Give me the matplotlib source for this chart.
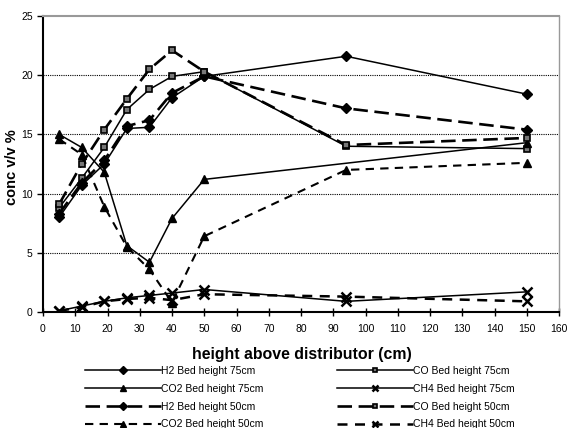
import matplotlib
matplotlib.use("Agg")
import matplotlib.pyplot as plt
import numpy as np

plt.rcParams['font.family'] = ['Liberation Sans', 'DejaVu Sans']

x_all = [5, 12, 19, 26, 33, 40, 50, 94, 150]
x_co2_75 = [5, 12, 19, 26, 33, 40, 50, 150]

h2_75 = [8.0, 10.7, 12.5, 15.5, 15.6, 18.1, 19.9, 21.6, 18.4]
co_75 = [8.8, 11.3, 13.9, 17.1, 18.8, 19.9, 20.3, 14.0, 13.8]
co2_75 = [15.0, 13.9, 11.8, 5.6, 4.2, 7.9, 11.2, 14.3]
ch4_75 = [0.1, 0.5, 0.9, 1.2, 1.4, 1.6, 1.9, 0.9, 1.7]

h2_50 = [8.3, 10.9, 12.8, 15.7, 16.2, 18.5, 19.9, 17.2, 15.4]
co_50 = [9.1, 12.5, 15.4, 18.0, 20.5, 22.1, 20.3, 14.1, 14.7]
co2_50 = [14.6, 13.3, 8.9, 5.5, 3.6, 0.8, 6.4, 12.0, 12.6]
ch4_50 = [0.1, 0.4, 0.9, 1.1, 1.2, 1.0, 1.5, 1.3, 0.9]

labels = ["H2 Bed height 75cm", "CO Bed height 75cm", "CO2 Bed height 75cm", "CH4 Bed height 75cm",
          "H2 Bed height 50cm", "CO Bed height 50cm", "CO2 Bed height 50cm", "CH4 Bed height 50cm"]

fig = plt.figure(figsize=(5.69, 4.28), dpi=100)
ax = fig.add_axes([43/569, 1-312/428, (559-43)/569, (312-16)/428])

solid = dict(color='black', lw=1.1, ls='-')
dash1 = dict(color='black', lw=1.9, dashes=(5.5, 2.5))
dash2 = dict(color='black', lw=1.5, dashes=(4, 3))

lines = {}
lines['h2_75'], = ax.plot(x_all, h2_75, marker='D', ms=5.5, mfc='black', mec='black', label=labels[0], **solid)
lines['co_75'], = ax.plot(x_all, co_75, marker='s', ms=5, mfc='#777777', mec='black', mew=1.2, label=labels[1], **solid)
lines['co2_75'], = ax.plot(x_co2_75, co2_75, marker='^', ms=6.3, mfc='black', mec='black', label=labels[2], **solid)
lines['ch4_75'], = ax.plot(x_all, ch4_75, marker='x', ms=7, mew=1.8, color='black', label=labels[3], ls='-', lw=1.1)

lines['h2_50'], = ax.plot(x_all, h2_50, marker='D', ms=5.5, mfc='black', mec='black', label=labels[4], **dash1)
lines['co_50'], = ax.plot(x_all, co_50, marker='s', ms=5, mfc='#777777', mec='black', mew=1.2, label=labels[5], **dash1)
lines['co2_50'], = ax.plot(x_all, co2_50, marker='^', ms=6.3, mfc='black', mec='black', label=labels[6], **dash2)
lines['ch4_50'], = ax.plot(x_all, ch4_50, marker='x', ms=7, mew=1.8, color='black', label=labels[7], lw=1.8, dashes=(4, 3))

ax.set_xlim(0, 160)
ax.set_ylim(0, 25)
ax.set_xticks(np.arange(0, 161, 10))
ax.set_yticks(np.arange(0, 26, 5))
for yv in [5, 10, 15, 20]:
    ax.axhline(yv, color='black', lw=0.8, ls=(0, (1, 1)), zorder=0)
ax.tick_params(axis='both', labelsize=7.5, colors='black', length=4, width=1)
ax.tick_params(axis='x', direction='inout', length=6, pad=6)
ax.spines['left'].set_linewidth(1.5)
ax.spines['bottom'].set_linewidth(1.5)
ax.spines['top'].set_color('#999999')
ax.spines['top'].set_linewidth(1.5)
ax.spines['right'].set_color('#999999')
ax.spines['right'].set_linewidth(1.0)

ax.set_ylabel("conc v/v %", fontsize=10.5, fontweight='bold')
ax.yaxis.set_label_coords(-0.046, 0.49)
fig.text(302/569, 1-355/428, "height above distributor (cm)", fontsize=11.4, fontweight='bold',
         ha='center', va='center')

col1 = ['h2_75', 'co2_75', 'h2_50', 'co2_50']
col2 = ['co_75', 'ch4_75', 'co_50', 'ch4_50']
common = dict(loc='upper left', frameon=False, fontsize=7.5, handlelength=7.3, handletextpad=0.0,
              labelspacing=0.75, borderaxespad=0, borderpad=0, numpoints=1, markerscale=0.7)
h1 = [lines[k] for k in col1]
h2 = [lines[k] for k in col2]
leg1 = fig.legend(h1, [h.get_label() for h in h1], bbox_to_anchor=(85/569, 1-366/428), **common)
leg2 = fig.legend(h2, [h.get_label() for h in h2], bbox_to_anchor=(337/569, 1-366/428), **common)

fig.savefig("out.png", dpi=100)
